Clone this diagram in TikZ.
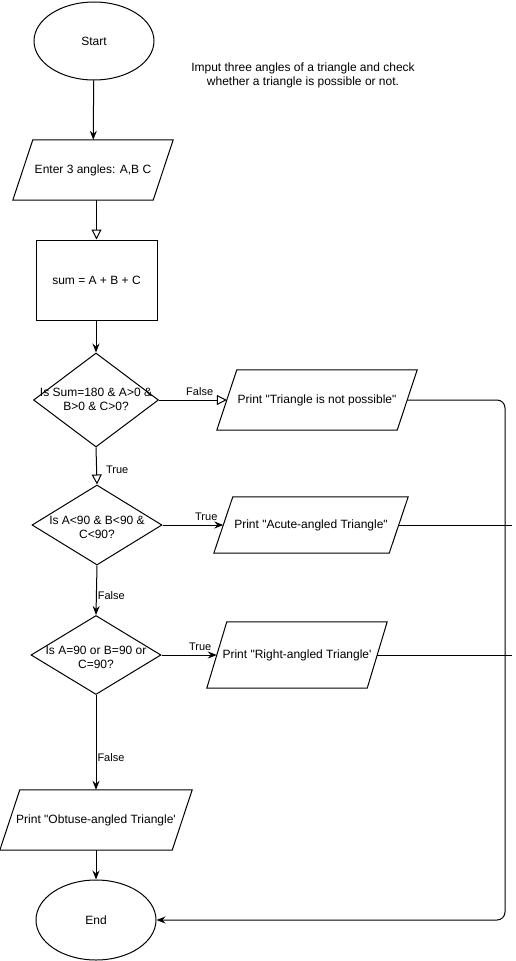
\documentclass[tikz,border=0pt]{standalone}
\usepackage{fontspec}
\setmainfont{Liberation Sans}[Ligatures=TeXOff]
\usetikzlibrary{shapes.geometric,arrows.meta,calc}
\tikzset{
  base/.style={draw=black, line width=1pt, inner sep=0pt, font=\fontsize{12}{14}\selectfont, align=center},
  term/.style={base, ellipse, minimum width=120pt, minimum height=80pt},
  proc/.style={base, rectangle, minimum width=121pt, minimum height=80pt},
  iotext/.style={inner sep=0pt, font=\fontsize{12}{14}\selectfont, align=center},
  iodraw/.style={draw=black, line width=1pt},
  dtext/.style={inner sep=0pt, font=\fontsize{12}{14}\selectfont, align=center},
  lbl/.style={inner sep=0pt, font=\fontsize{11}{13}\selectfont},
  conn/.style={draw=black, line width=1pt},
  fa/.style={conn, -{Stealth[length=9pt,width=7pt,inset=3pt]}},
  oa/.style={conn, -{Triangle[open,length=10pt,width=10pt,fill=white]}},
}
\newcommand\iobox[7]{%
  \node[iotext, minimum width={(#4-#5)*1pt}, minimum height={#6*1pt}] (#1) at (#2,#3) {#7};
  \draw[iodraw] ([xshift=-#5*0.5pt]#1.south west) -- ([xshift=#5*0.5pt]#1.north west) -- ([xshift=#5*0.5pt]#1.north east) -- ([xshift=-#5*0.5pt]#1.south east) -- cycle;}
\begin{document}
\begin{tikzpicture}[x=1pt,y=-1pt]
\useasboundingbox (0,0) rectangle (516,961);
\fill[white] (0,0) rectangle (516,961);

\node[term, minimum height=78pt] (start) at (94,41) {Start};
\node[iotext] (note) at (303,75) {Imput three angles of a triangle and check\\whether a triangle is possible or not.};

\iobox{enter}{93}{170}{160}{20}{60}{Enter 3 angles: A,B C}
\node[proc] (sum) at (96.5,280) {sum = A + B + C};

\node[base, diamond, minimum width=125pt, minimum height=94pt] (d1) at (96,400) {};
\node[dtext] (d1t) at (96,399) {Is Sum=180 \& A>0 \&\\B>0 \& C>0?};

\iobox{notp}{317}{400}{200}{20}{60}{Print "Triangle is not possible"}

\node[base, diamond, minimum width=130pt, minimum height=80pt] (d2) at (97,525) {};
\node[dtext] (d2t) at (97,527) {Is A<90 \& B<90 \&\\C<90?};

\iobox{acute}{311}{525}{194}{19}{56}{Print "Acute-angled Triangle"}

\node[base, diamond, minimum width=130pt, minimum height=79pt] (d3) at (96,655) {};
\node[dtext] (d3t) at (96,657) {Is A=90 or B=90 or\\C=90?};

\iobox{right}{297}{655}{180}{20}{66}{Print "Right-angled Triangle\textquotesingle}

\iobox{obt}{96}{820}{192}{20}{60}{Print "Obtuse-angled Triangle\textquotesingle}

\node[term] (end) at (96,920) {End};

\coordinate (c1) at (505,400);
\coordinate (c2) at (505,920);
\coordinate (ae) at (512,525);
\coordinate (re) at (512,655);

\draw[fa] (start) -- (enter);
\draw[oa] (enter.south -| sum.north) -- (sum.north);
\draw[fa] (sum.south -| d1.north) -- (d1.north);
\draw[oa] (d1.east) -- (notp.west) node[lbl, pos=0.6, above=4pt] (lf1) {False};
\draw[oa] (d1.south) -- (d2.north) node[lbl, pos=0.6, right=9pt] (lt1) {True};
\draw[fa] (d2.east) -- (acute.west) node[lbl, pos=0.72, above=4pt] (lt2) {True};
\draw[fa] (d2.south) -- (d3.north) node[lbl, pos=0.6, right=1pt] (lf2) {False};
\draw[fa] (d3.east) -- (right.west) node[lbl, pos=0.7, above=4pt] (lt3) {True};
\draw[fa] (d3.south) -- (obt.north) node[lbl, pos=0.66, right=1pt] (lf3) {False};
\draw[fa] (obt.south) -- (end.north);
\draw[fa, rounded corners=8pt] (notp.east) -- (c1) -- (c2) -- (end.east);
\draw[conn] (acute.east) -- (ae);
\draw[conn] (right.east) -- (re);
\end{tikzpicture}
\end{document}
